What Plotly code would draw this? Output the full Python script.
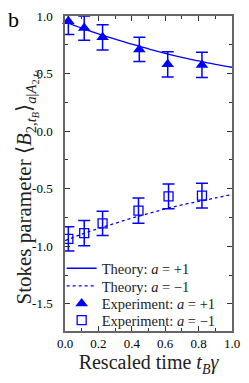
import plotly.graph_objects as go

# ---- data ----
theory_t = [0.0, 0.1, 0.2, 0.3, 0.4, 0.5, 0.6, 0.7, 0.8, 0.9, 1.0]
theory_pos = [0.95, 0.895, 0.845, 0.80, 0.755, 0.715, 0.675, 0.64, 0.61, 0.58, 0.555]
theory_neg = [-0.95, -0.895, -0.845, -0.80, -0.755, -0.715, -0.675, -0.64, -0.61, -0.58, -0.55]

exp_t_pos = [0.02, 0.115, 0.225, 0.445, 0.615, 0.82]
exp_pos = [0.955, 0.895, 0.815, 0.71, 0.58, 0.575]
err_pos = [0.115, 0.105, 0.11, 0.105, 0.11, 0.11]

exp_t_neg = [0.02, 0.115, 0.225, 0.44, 0.62, 0.82]
exp_neg = [-0.935, -0.885, -0.80, -0.69, -0.566, -0.56]
err_neg = [0.105, 0.11, 0.105, 0.11, 0.108, 0.107]

x_ticks = [0.0, 0.2, 0.4, 0.6, 0.8, 1.0]
x_ticktext = ["0.0", "0.2", "0.4", "0.6", "0.8", "1.0"]
y_ticks = [-1.5, -1.0, -0.5, 0.0, 0.5, 1.0]
y_ticktext = ["-1.5", "-1.0", "-0.5", "0.0", "0.5", "1.0"]

BLUE = "#0000ff"
FONT = "Liberation Serif"

fig = go.Figure()
fig.add_trace(go.Scatter(
    x=theory_t, y=theory_pos, mode="lines", line=dict(color=BLUE, width=1.3, shape="spline"),
    name="Theory: <i>a</i> = +1", legend="legend"))
fig.add_trace(go.Scatter(
    x=theory_t, y=theory_neg, mode="lines", line=dict(color=BLUE, width=1.3, dash="dot", shape="spline"),
    name="Theory: <i>a</i> = \u22121", legend="legend2"))
fig.add_trace(go.Scatter(
    x=exp_t_pos, y=exp_pos, mode="markers", cliponaxis=False,
    marker=dict(symbol="triangle-up", size=11, color=BLUE),
    error_y=dict(type="data", array=err_pos, color=BLUE, thickness=1.5, width=6),
    name="Experiment: <i>a</i> = +1", legend="legend3"))
fig.add_trace(go.Scatter(
    x=exp_t_neg, y=exp_neg, mode="markers", cliponaxis=False,
    marker=dict(symbol="square-open", size=9, color=BLUE, line=dict(width=1.3)),
    error_y=dict(type="data", array=err_neg, color=BLUE, thickness=1.5, width=6),
    name="Experiment: <i>a</i> = \u22121", legend="legend4"))

axis_common = dict(
    showline=True, linecolor="#666666", linewidth=1.5, mirror="allticks",
    ticks="inside", ticklen=5, tickwidth=1, tickcolor="#333333",
    showgrid=False, zeroline=False, ticklabeloverflow="allow",
    tickfont=dict(family=FONT, size=13, color="black"),
)

fig.update_xaxes(
    range=[0, 1], tickvals=x_ticks, ticktext=x_ticktext,
    minor=dict(ticks="inside", dtick=0.1, ticklen=3, tickcolor="#333333", showgrid=False),
    title=dict(text="Rescaled time <i>t</i><sub><i>B</i></sub><i>γ</i>",
               font=dict(family=FONT, size=20, color="#222222"), standoff=2),
    **axis_common)
fig.update_yaxes(
    range=[-1.735, 1.0], tickvals=y_ticks, ticktext=y_ticktext,
    minor=dict(ticks="inside", dtick=0.25, tick0=0, ticklen=3, tickcolor="#333333", showgrid=False),
    ticklabelstandoff=8,
    **axis_common)

fig.add_annotation(
    text="Stokes parameter \u27e8<i>B</i><sub>2,<i>t</i><sub><i>B</i></sub></sub>\u27e9<sub><i>a</i>|<i>A</i><sub>2,<i>t</i><sub><i>A</i></sub></sub></sub>",
    xref="paper", yref="paper", x=-0.225, y=0.46, textangle=-90,
    xanchor="center", yanchor="middle", showarrow=False,
    font=dict(family=FONT, size=21, color="#222222"))

fig.add_annotation(text="b", xref="paper", yref="paper", x=-0.309, y=0.99,
                   xanchor="center", yanchor="middle", showarrow=False,
                   font=dict(family=FONT, size=22, color="black"))

leg_common = dict(x=-0.02, xanchor="left", yanchor="middle",
                  bgcolor="rgba(0,0,0,0)", font=dict(family=FONT, size=14.5, color="#222222"),
                  itemwidth=30)
fig.update_layout(
    width=249, height=383,
    margin=dict(l=65, r=11, t=9, b=52),
    paper_bgcolor="white", plot_bgcolor="white",
    font=dict(family=FONT, color="black"),
    showlegend=True,
    legend=dict(y=0.199, **leg_common),
    legend2=dict(y=0.143, **leg_common),
    legend3=dict(y=0.087, **leg_common),
    legend4=dict(y=0.034, **leg_common),
)

fig.write_html("out.html", config={"displayModeBar": False},
               post_script="document.body.style.margin='0';")
